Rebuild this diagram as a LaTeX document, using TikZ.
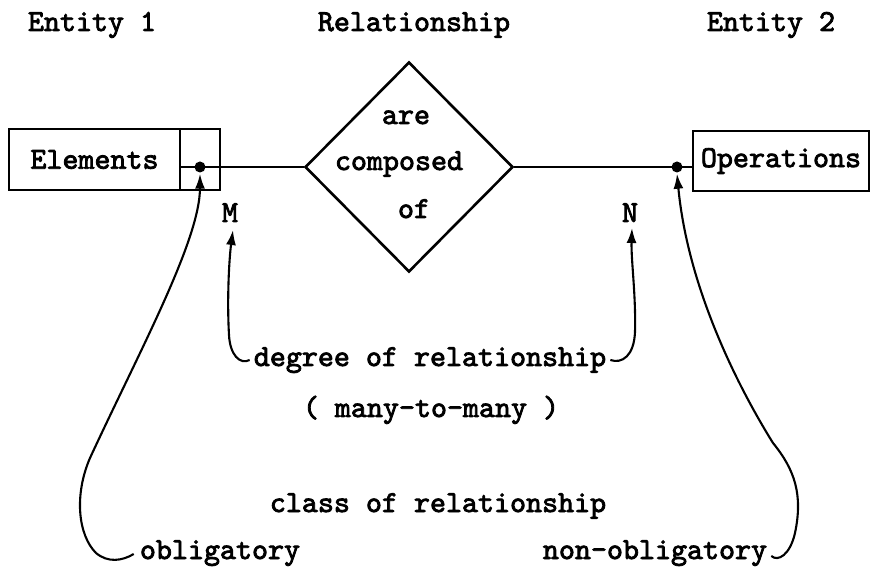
\documentclass[tikz,border=0pt]{standalone}
\usepackage{fontspec}
\setmonofont{lmmono10-regular.otf}[FakeBold=2.6]
\usetikzlibrary{shapes.geometric,arrows.meta}
\begin{document}
\begin{tikzpicture}[x=1pt,y=-1pt,
  every node/.style={font=\ttfamily\fontsize{30.5}{34}\selectfont},
  lbl/.style={inner sep=0pt,anchor=base},
  ent/.style={draw,line width=2.6pt,inner sep=0pt,outer sep=0pt},
  ln/.style={line width=2.6pt},
  arr/.style={line width=2.1pt,-{Latex[length=15pt,width=10pt]}},
  dotn/.style={circle,fill,inner sep=0pt,minimum size=11pt}]
\path[use as bounding box] (0,0) rectangle (871,569);
% headings
\node[lbl] (e1) at (92,31) {Entity 1};
\node[lbl] (rl) at (414,31) {Relationship};
\node[lbl] (e2) at (771,31) {Entity 2};
% entities
\node[ent, minimum width=171pt, minimum height=61pt] (elem) at (94.5,159.5) {Elements};
\node[ent, minimum width=40pt, minimum height=61pt, anchor=west] (card) at (elem.east) {};
\node[ent, minimum width=176pt, minimum height=60pt] (ops) at (781,161) {Operations};
% relationship
\node[draw, diamond, ln, minimum width=208pt, minimum height=210pt, inner sep=0pt] (rel) at (409,167) {};
\node[lbl] (t1) at (406,124) {are};
\node[lbl] (t2) at (399,170) {composed};
\node[lbl] (t3) at (414,218) {of};
% dots and lines
\node[dotn] (d1) at (200,167) {};
\node[dotn] (d2) at (677,167) {};
\draw[ln] (card.west |- d1) -- (d1.center) -- (rel.west);
\draw[ln] (rel.east) -- (d2.center) -- (ops.west |- d2);
% cardinalities
\node[lbl] (m) at (230,222) {M};
\node[lbl] (n) at (630,222) {N};
\coordinate (mt) at (233,230);
\coordinate (nt) at (632,228);
% texts
\node[lbl] (deg) at (430,366) {degree of relationship};
\node[lbl] (mm) at (431,417) {( many-to-many )};
\node[lbl] (cls) at (438,512) {class of relationship};
\node[lbl] (obl) at (220,559) {obligatory};
\node[lbl] (nob) at (655,559) {non-obligatory};
% arrows
\draw[arr] ([shift={(-4,-6)}]deg.base west) .. controls (240,365) and (230,355) .. (229,335)
  .. controls (227,300) and (229,260) .. (mt);
\draw[arr] ([shift={(4,-6)}]deg.base east) .. controls (622,364) and (634,356) .. (635,332)
  .. controls (636,295) and (631,260) .. (nt);
\draw[arr] ([shift={(-6,-5)}]obl.base west) .. controls (122,561) and (108,563) .. (96,553)
  .. controls (78,535) and (74,495) .. (90,458)
  .. controls (140,350) and (200,240) .. ([yshift=-1pt]d1.south);
\draw[arr] ([shift={(4,-3)}]nob.base east) .. controls (778,562) and (790,555) .. (795,533)
  .. controls (803,495) and (795,470) .. (773,443)
  .. controls (740,390) and (688,290) .. ([yshift=-1pt]d2.south);
\end{tikzpicture}
\end{document}
